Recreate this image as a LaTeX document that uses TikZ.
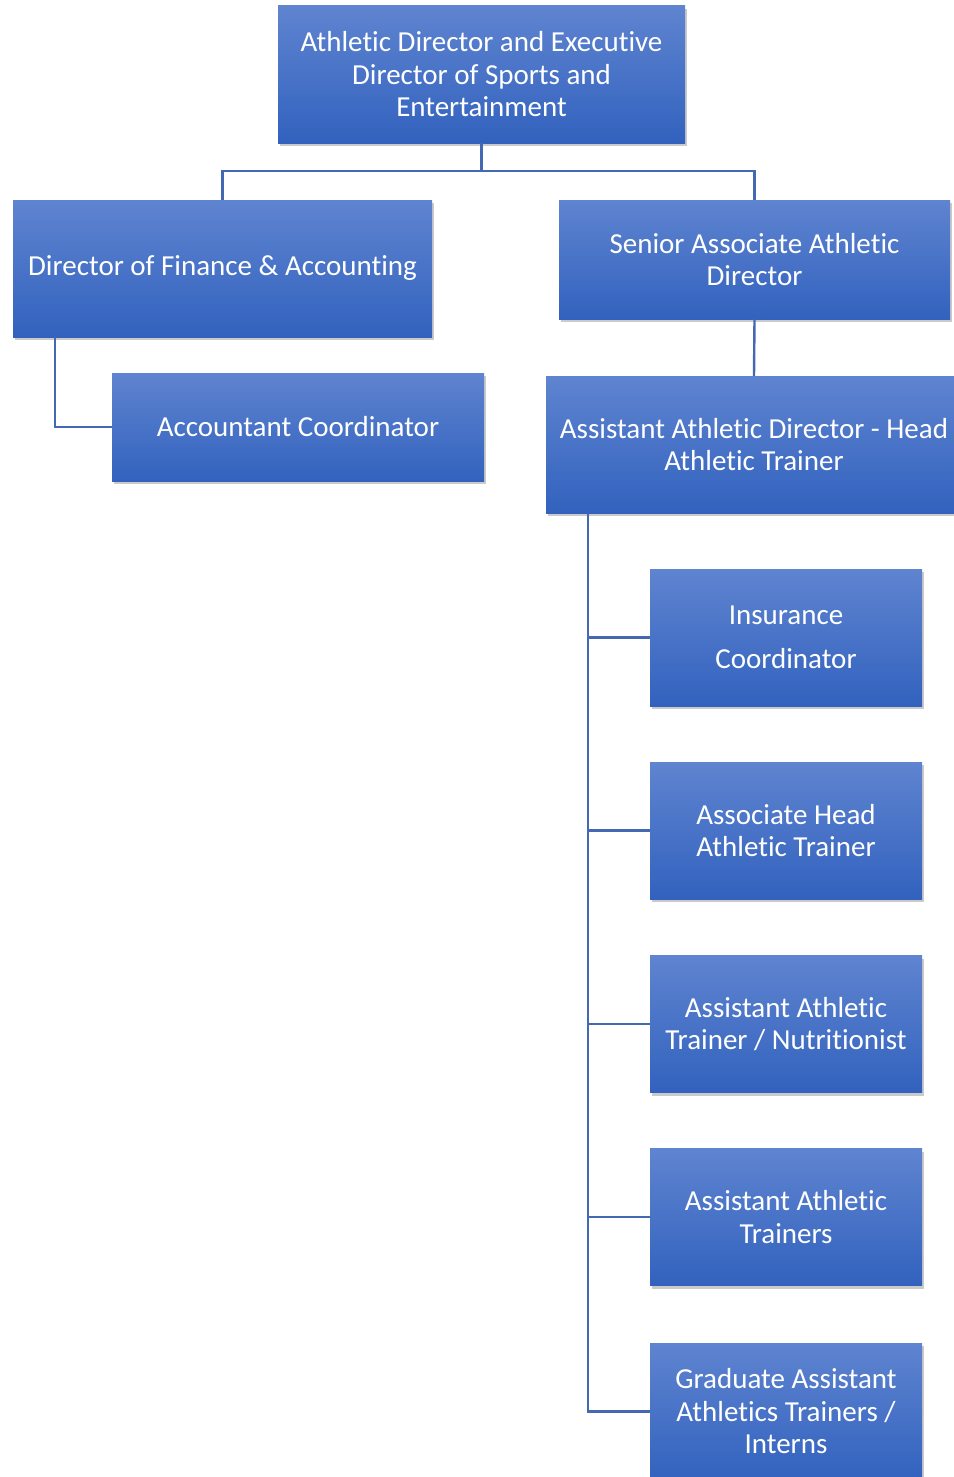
\documentclass[tikz,border=0pt]{standalone}
\usepackage{fontspec}
\setmainfont{Carlito}[Ligatures=NoCommon]
\usetikzlibrary{shadows}

\definecolor{boxtop}{HTML}{5F84D0}
\definecolor{boxbot}{HTML}{3262BE}
\definecolor{linkblue}{HTML}{4468B2}

\tikzset{
	orgbox/.style={rectangle, top color=boxtop, bottom color=boxbot, text=white,
		align=center, inner sep=0pt, font=\fontsize{29}{32.5}\selectfont,
		drop shadow={shadow xshift=2pt, shadow yshift=-3pt, opacity=0.35, fill=black!60}},
	link/.style={draw=linkblue, line width=2.4pt}
}

\begin{document}
\begin{tikzpicture}[x=1pt, y=-1pt]
	\useasboundingbox (0, 0) rectangle (953, 1477);

	\node[orgbox, minimum width=407pt, minimum height=137pt] (ad) at (481.5, 74.5) {Athletic Director and Executive\\Director of Sports and\\Entertainment};

	\node[orgbox, minimum width=419pt, minimum height=137pt] (fin) at (222.5, 268.5) {Director of Finance \& Accounting};
	\node[orgbox, minimum width=391pt, minimum height=119pt] (sad) at (754.5, 259.5) {Senior Associate Athletic\\Director};

	\node[orgbox, minimum width=372pt, minimum height=108pt] (acc) at (298, 427) {Accountant Coordinator};
	\node[orgbox, minimum width=416pt, minimum height=137pt] (head) at (754, 444.5) {Assistant Athletic Director - Head\\Athletic Trainer};

	\node[orgbox, minimum width=272pt, minimum height=137pt] (ins) at (786, 637.5) {Insurance\\[12pt]Coordinator};
	\node[orgbox, minimum width=272pt, minimum height=137pt] (aht) at (786, 830.5) {Associate Head\\Athletic Trainer};
	\node[orgbox, minimum width=272pt, minimum height=137pt] (nut) at (786, 1024) {Assistant Athletic\\Trainer / Nutritionist};
	\node[orgbox, minimum width=272pt, minimum height=137pt] (aat) at (786, 1217) {Assistant Athletic\\Trainers};
	\node[orgbox, minimum width=272pt, minimum height=137pt] (grad) at (786, 1411.5) {Graduate Assistant\\Athletics Trainers /\\Interns};

	% top level
	\draw[link] (ad.south) -- ++(0, 28) -| (fin.north);
	\draw[link] (ad.south) -- ++(0, 28) -| (sad.north);

	\draw[link] ([xshift=42pt]fin.south west) |- (acc.west);
	\draw[link] (sad.south) -- (head.north);

	% trainers
	\foreach \n in {ins, aht, nut, aat, grad}
		\draw[link] ([xshift=42pt]head.south west) |- (\n.west);
\end{tikzpicture}
\end{document}
